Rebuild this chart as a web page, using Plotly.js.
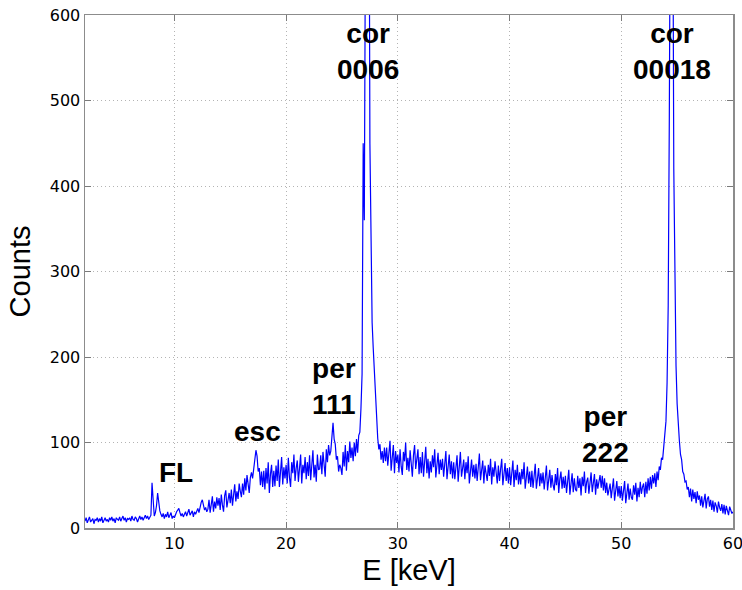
<!DOCTYPE html>
<html>
<head>
<meta charset="utf-8">
<script src="https://cdn.plot.ly/plotly-3.0.1.min.js"></script>
<style>html,body{margin:0;padding:0;background:#fff;}#chart{width:742px;height:590px;}</style>
</head>
<body>
<div id="chart"></div>
<script>
// Energy calibration of the channels (keV)
const energyStart = 2.0;
const energyStep = 0.1;

// Counts, one row per keV (10 channels of 0.1 keV each)
const counts = [
  /* 2 */ 8,12,6,10,13,7,9,11,5,10,
  /* 3 */ 9,12,7,11,8,13,6,10,12,8,
  /* 4 */ 10,7,12,9,13,8,11,6,12,10,
  /* 5 */ 9,13,8,11,14,9,12,7,11,10,
  /* 6 */ 12,8,14,10,9,13,11,7,12,14,
  /* 7 */ 10,13,9,12,15,11,14,10,13,15,
  /* 8 */ 53,30,14,18,26,41,30,20,16,13,
  /* 9 */ 17,11,16,13,19,12,15,18,11,14,
  /* 10 */ 12,16,19,21,23,18,14,17,13,16,
  /* 11 */ 19,14,18,22,15,17,20,13,19,16,
  /* 12 */ 20,23,18,25,30,33,26,21,24,19,
  /* 13 */ 22,33,18,30,37,19,31,23,36,26,
  /* 14 */ 35,21,39,27,19,38,44,24,33,41,
  /* 15 */ 29,45,26,40,51,31,43,34,52,43,
  /* 16 */ 36,52,39,58,44,62,50,41,59,65,
  /* 17 */ 58,68,76,91,84,66,70,50,66,48,
  /* 18 */ 67,45,70,52,77,41,63,74,48,67,
  /* 19 */ 49,73,55,80,48,65,83,51,71,58,
  /* 20 */ 74,52,82,59,48,77,64,86,55,70,
  /* 21 */ 79,54,71,86,52,74,64,83,57,77,
  /* 22 */ 61,85,56,78,91,59,74,54,86,68,
  /* 23 */ 69,85,63,89,72,60,92,77,97,85,
  /* 24 */ 90,108,123,104,98,80,84,66,74,70,
  /* 25 */ 62,89,72,97,67,90,77,101,82,94,
  /* 26 */ 78,100,84,104,88,108,112,140,180,450,
  /* 27 */ 360,700,1100,1200,900,450,300,240,210,185,
  /* 28 */ 165,125,105,92,98,80,90,76,94,78,
  /* 29 */ 94,73,87,102,67,84,97,64,90,76,
  /* 30 */ 86,65,92,72,62,89,78,100,68,82,
  /* 31 */ 66,91,75,60,85,97,69,79,92,63,
  /* 32 */ 83,64,89,60,77,95,64,81,58,78,
  /* 33 */ 65,85,71,92,59,76,88,63,80,68,
  /* 34 */ 81,60,75,90,57,74,86,63,78,58,
  /* 35 */ 77,57,73,85,54,74,89,60,71,80,
  /* 36 */ 57,77,64,84,52,71,80,60,74,58,
  /* 37 */ 75,55,70,87,56,65,79,52,73,64,
  /* 38 */ 55,74,61,81,51,71,60,78,64,52,
  /* 39 */ 73,55,69,81,50,64,76,55,70,52,
  /* 40 */ 71,50,65,79,48,68,56,74,51,65,
  /* 41 */ 51,69,57,77,46,63,72,52,66,48,
  /* 42 */ 67,47,63,75,46,60,70,49,64,52,
  /* 43 */ 65,45,60,73,44,58,68,47,62,50,
  /* 44 */ 44,63,50,70,41,57,66,46,60,47,
  /* 45 */ 61,41,56,68,39,55,64,42,58,45,
  /* 46 */ 43,61,47,58,38,60,49,66,41,54,
  /* 47 */ 59,40,54,65,42,51,63,39,57,46,
  /* 48 */ 58,62,47,61,44,58,41,53,38,48,
  /* 49 */ 52,35,48,58,32,46,55,37,49,35,
  /* 50 */ 49,32,44,55,29,43,52,33,46,36,
  /* 51 */ 33,50,39,53,31,47,36,54,40,48,
  /* 52 */ 52,36,54,40,58,44,60,46,62,52,
  /* 53 */ 64,48,66,56,72,68,82,80,95,100,
  /* 54 */ 125,170,260,480,900,1100,800,420,260,190,
  /* 55 */ 145,118,102,86,80,66,63,54,55,45,
  /* 56 */ 48,36,46,31,45,34,42,29,43,33,
  /* 57 */ 38,26,37,24,36,40,23,34,37,25,
  /* 58 */ 33,21,32,19,30,26,18,31,24,20,
  /* 59 */ 28,17,27,16,26,20,15,25,19,17,
  /* 60 */ 19
];

const energies = counts.map((_, i) => +(energyStart + i * energyStep).toFixed(1));

// Peak labels
const labelTexts = ['cor<br>0006', 'cor<br>00018', 'per<br>111', 'per<br>222', 'esc', 'FL'];
const labelE = [27.3, 54.55, 24.3, 48.55, 17.4, 10.15];
const labelC = [557, 557, 166, 109, 113, 65];

const trace = {
  x: energies,
  y: counts,
  type: 'scatter',
  mode: 'lines',
  line: {color: '#0000ff', width: 1.2},
  hoverinfo: 'skip'
};

const annFont = {family: '"Liberation Sans", Arial, sans-serif', size: 28, color: '#000', weight: 'bold'};
const annotations = labelTexts.map((t, i) => ({
  x: labelE[i], y: labelC[i], xref: 'x', yref: 'y',
  text: '<b>' + t + '</b>', showarrow: false, font: annFont,
  xanchor: 'center', yanchor: 'middle', align: 'center'
}));

const axisCommon = {
  showline: true, linecolor: '#8c8c8c', linewidth: 1.5, mirror: 'ticks',
  ticks: 'inside', ticklen: 6, tickcolor: '#7a7a7a', tickwidth: 1,
  showgrid: true, gridcolor: '#b4b4b4', griddash: '1px,3px', gridwidth: 1,
  zeroline: false, ticklabeloverflow: 'allow',
  tickfont: {family: '"DejaVu Sans", sans-serif', size: 16, color: '#000'}
};

const layout = {
  width: 742, height: 590,
  margin: {l: 85, r: 9, t: 15, b: 62},
  paper_bgcolor: '#fff', plot_bgcolor: '#fff',
  showlegend: false,
  xaxis: Object.assign({}, axisCommon, {
    range: [2, 60], tick0: 0, dtick: 10,
    title: {text: 'E [keV]', font: {family: '"Liberation Sans", Arial, sans-serif', size: 29, color: '#000'}, standoff: 8}
  }),
  yaxis: Object.assign({}, axisCommon, {
    range: [0, 600], tick0: 0, dtick: 100,
    title: {text: 'Counts', font: {family: '"Liberation Sans", Arial, sans-serif', size: 29, color: '#000'}, standoff: 10}
  }),
  annotations: annotations
};

Plotly.newPlot('chart', [trace], layout, {displayModeBar: false, staticPlot: true});
</script>
</body>
</html>
